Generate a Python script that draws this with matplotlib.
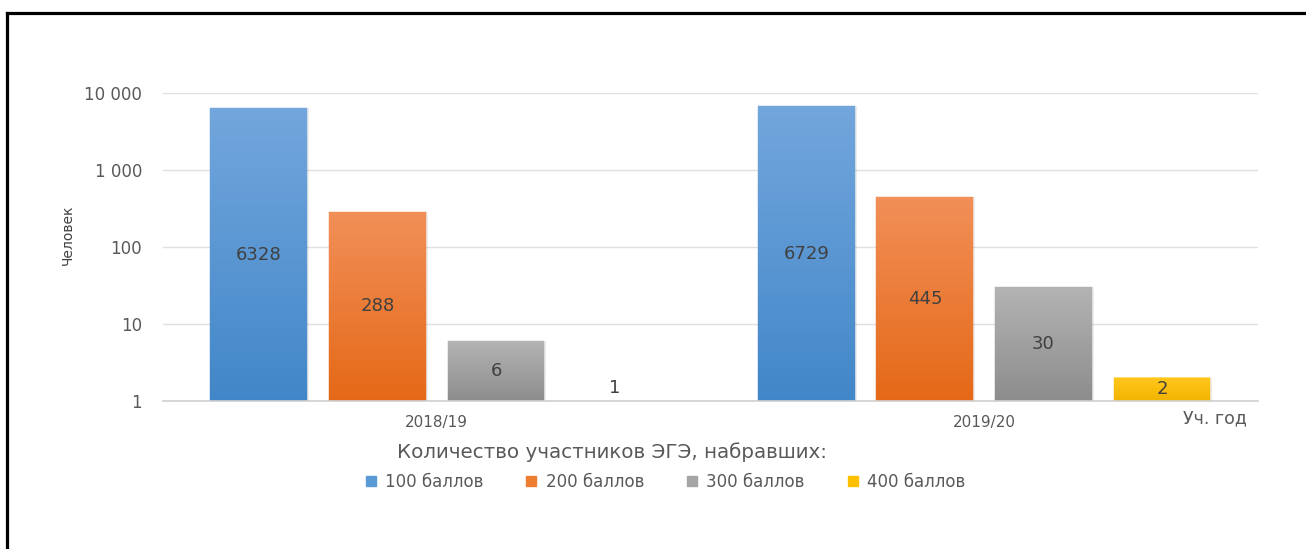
import numpy as np
import matplotlib.pyplot as plt
from matplotlib.lines import Line2D
from matplotlib.colors import to_rgb
from matplotlib.ticker import FixedLocator, FuncFormatter

years = ["2018/19", "2019/20"]
series = ["100 баллов", "200 баллов", "300 баллов", "400 баллов"]
vals_100 = [6328, 6729]
vals_200 = [288, 445]
vals_300 = [6, 30]
vals_400 = [1, 2]

# top / bottom colours of the gradient fill
grad = {
    "100 баллов": ("#72a6dc", "#4186c8"),
    "200 баллов": ("#f18f58", "#e46816"),
    "300 баллов": ("#b3b3b3", "#8c8c8c"),
    "400 баллов": ("#ffc61a", "#f2b300"),
}
legend_col = {
    "100 баллов": "#5b9bd5",
    "200 баллов": "#ed7d31",
    "300 баллов": "#a5a5a5",
    "400 баллов": "#ffc000",
}

plt.rcParams["font.family"] = "DejaVu Sans"
txt = "#595959"

fig = plt.figure(figsize=(13.06, 5.49), dpi=100)
ax = fig.add_axes([0.1248, 0.2696, 0.8384, 0.561])
ax.set_yscale("log")
ax.set_ylim(1, 10000)
ax.set_xlim(-0.5, 1.5)

all_vals = [vals_100, vals_200, vals_300, vals_400]
w = 0.177
step = 0.2165
x = np.arange(len(years))
nseg = 120
for i, (name, v) in enumerate(zip(series, all_vals)):
    pos = x + (i - 1.5) * step
    top_c = np.array(to_rgb(grad[name][0]))
    bot_c = np.array(to_rgb(grad[name][1]))
    for p, val in zip(pos, v):
        if val > 1:
            # soft shadow on the right
            ax.bar(p + 0.003, val - 1, width=w, bottom=1, color="#000000",
                   alpha=0.07, linewidth=0, zorder=1.9)
            edges = np.logspace(0, np.log10(val), nseg + 1)
            for k in range(nseg):
                t = (k + 0.5) / nseg
                c = bot_c + (top_c - bot_c) * t
                ax.bar(p, edges[k + 1] - edges[k], width=w, bottom=edges[k],
                       color=c, edgecolor=c, linewidth=0.3, zorder=2)
            ax.text(p, np.sqrt(val), str(val), ha="center", va="center",
                    fontsize=13, color="#404040", zorder=3)
        else:
            ax.text(p, 1.12, str(val), ha="center", va="bottom",
                    fontsize=13, color="#404040", zorder=3)

ax.yaxis.set_major_locator(FixedLocator([1, 10, 100, 1000, 10000]))
ax.yaxis.set_minor_locator(FixedLocator([]))
ax.yaxis.set_major_formatter(FuncFormatter(lambda v, p: f"{int(v):,}".replace(",", " ")))
ax.set_xticks(x)
ax.set_xticklabels(years)
ax.tick_params(axis="both", length=0, colors=txt)
ax.tick_params(axis="y", pad=15, labelsize=12)
ax.tick_params(axis="x", pad=10, labelsize=11)
ax.grid(axis="y", color="#e0e0e0", linewidth=1.0, zorder=0)
ax.set_axisbelow(True)
for s in ["top", "right", "left"]:
    ax.spines[s].set_visible(False)
ax.spines["bottom"].set_color("#d0d0d0")
ax.spines["bottom"].set_linewidth(1.2)

fig.text(0.052, 0.572, "Человек", rotation=90, ha="center", va="center",
         fontsize=10, color="#404040")
fig.text(0.906, 0.238, "Уч. год", ha="left", va="center", fontsize=12.5, color=txt)
fig.text(0.4685, 0.177, "Количество участников ЭГЭ, набравших:", ha="center",
         va="center", fontsize=14.3, color=txt)

handles = [Line2D([], [], marker="s", linestyle="none", markersize=7,
                  markerfacecolor=legend_col[n], markeredgecolor=legend_col[n])
           for n in series]
fig.legend(handles, series, loc="center", bbox_to_anchor=(0.509, 0.122), ncol=4,
           frameon=False, fontsize=12, labelcolor=txt, handlelength=0.8,
           handletextpad=0.45, columnspacing=2.5)

# frame lines (top and left)
fig.add_artist(Line2D([0.0057, 1.0], [0.977, 0.977], color="black", linewidth=2.3,
                      transform=fig.transFigure))
fig.add_artist(Line2D([0.0057, 0.0057], [0.0, 0.977], color="black", linewidth=2.3,
                      transform=fig.transFigure))

fig.savefig("out.png", dpi=100)
